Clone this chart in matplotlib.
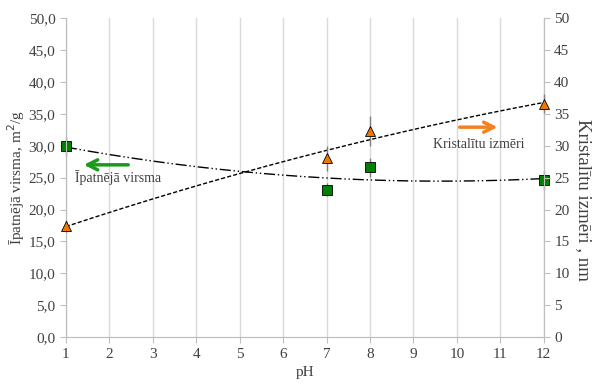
import numpy as np
from matplotlib import pyplot as plt

plt.rcParams['font.family'] = ['Liberation Serif', 'DejaVu Serif']

# pH values and measurements
ph = [1, 7, 8, 12]
virsma = [29.9, 23.1, 26.6, 24.6]        # m2/g, left axis
virsma_err = [1.5, 1.0, 1.5, 1.5]
izmeri = [17.4, 28.0, 32.3, 36.6]        # nm, right axis
izmeri_err = [1.0, 2.0, 2.3, 1.5]

x_ticks = list(range(1, 13))
left_ticks = [0, 5, 10, 15, 20, 25, 30, 35, 40, 45, 50]

fig = plt.figure(figsize=(5.93, 3.84), dpi=100)
ax = fig.add_axes([0.111, 0.122, 0.806, 0.831])
ax2 = ax.twinx()

grey = '#bfbfbf'
for a in (ax, ax2):
    a.set_xlim(1, 12)
    a.set_ylim(0, 50)
    for s in a.spines.values():
        s.set_color(grey)
    a.spines['top'].set_visible(False)
    a.tick_params(colors='#404040', labelsize=11, length=4, color=grey)

ax.set_xticks(x_ticks)
ax.grid(axis='x', color='#d9d9d9', linewidth=1)
ax.set_yticks(left_ticks)
ax.set_yticklabels([f'{v:.1f}'.replace('.', ',') for v in left_ticks])
ax2.set_yticks(left_ticks)
ax.set_axisbelow(True)

# polynomial trend lines
xs = np.linspace(1, 12, 200)
p1 = np.polyfit(ph, virsma, 2)
p2 = np.polyfit(ph, izmeri, 2)
ax.plot(xs, np.polyval(p1, xs), color='black', linewidth=1,
        dashes=(8, 2, 1, 2, 1, 2))
ax2.plot(xs, np.polyval(p2, xs), color='black', linewidth=1, dashes=(3, 1.5))

ax.errorbar(ph, virsma, yerr=virsma_err, fmt='s', color='green',
            markeredgecolor='black', markeredgewidth=0.6, markersize=7,
            ecolor='#808080', elinewidth=1, capsize=0, zorder=5, clip_on=False)
ax2.errorbar(ph, izmeri, yerr=izmeri_err, fmt='^', color='#f07800',
             markeredgecolor='black', markeredgewidth=0.6, markersize=7,
             ecolor='#808080', elinewidth=1, capsize=0, zorder=5, clip_on=False)

ax.set_xlabel('pH', fontsize=11, color='#404040', labelpad=4)
ax.set_ylabel('Īpatnējā virsma, m$^2$/g', fontsize=11, color='#404040',
              labelpad=1)
ax2.set_ylabel('Kristalītu izmēri , nm', fontsize=13.5, color='#404040',
               rotation=270, labelpad=16)
ax2.yaxis.set_label_coords(1.1, 0.43)

# arrows pointing to the matching axis
ax.annotate('', xy=(1.35, 27.0), xytext=(2.5, 27.0),
            arrowprops=dict(arrowstyle='->', color='#1a9a1a', lw=2.5,
                            mutation_scale=18))
ax.text(1.22, 24.3, 'Īpatnējā virsma', fontsize=10, color='#404040')
ax.annotate('', xy=(11.0, 32.9), xytext=(10.0, 32.9),
            arrowprops=dict(arrowstyle='->', color='#f58220', lw=2.5,
                            mutation_scale=18))
ax.text(9.45, 29.6, 'Kristalītu izmēri', fontsize=10, color='#404040')

fig.savefig('out.png', dpi=100)
